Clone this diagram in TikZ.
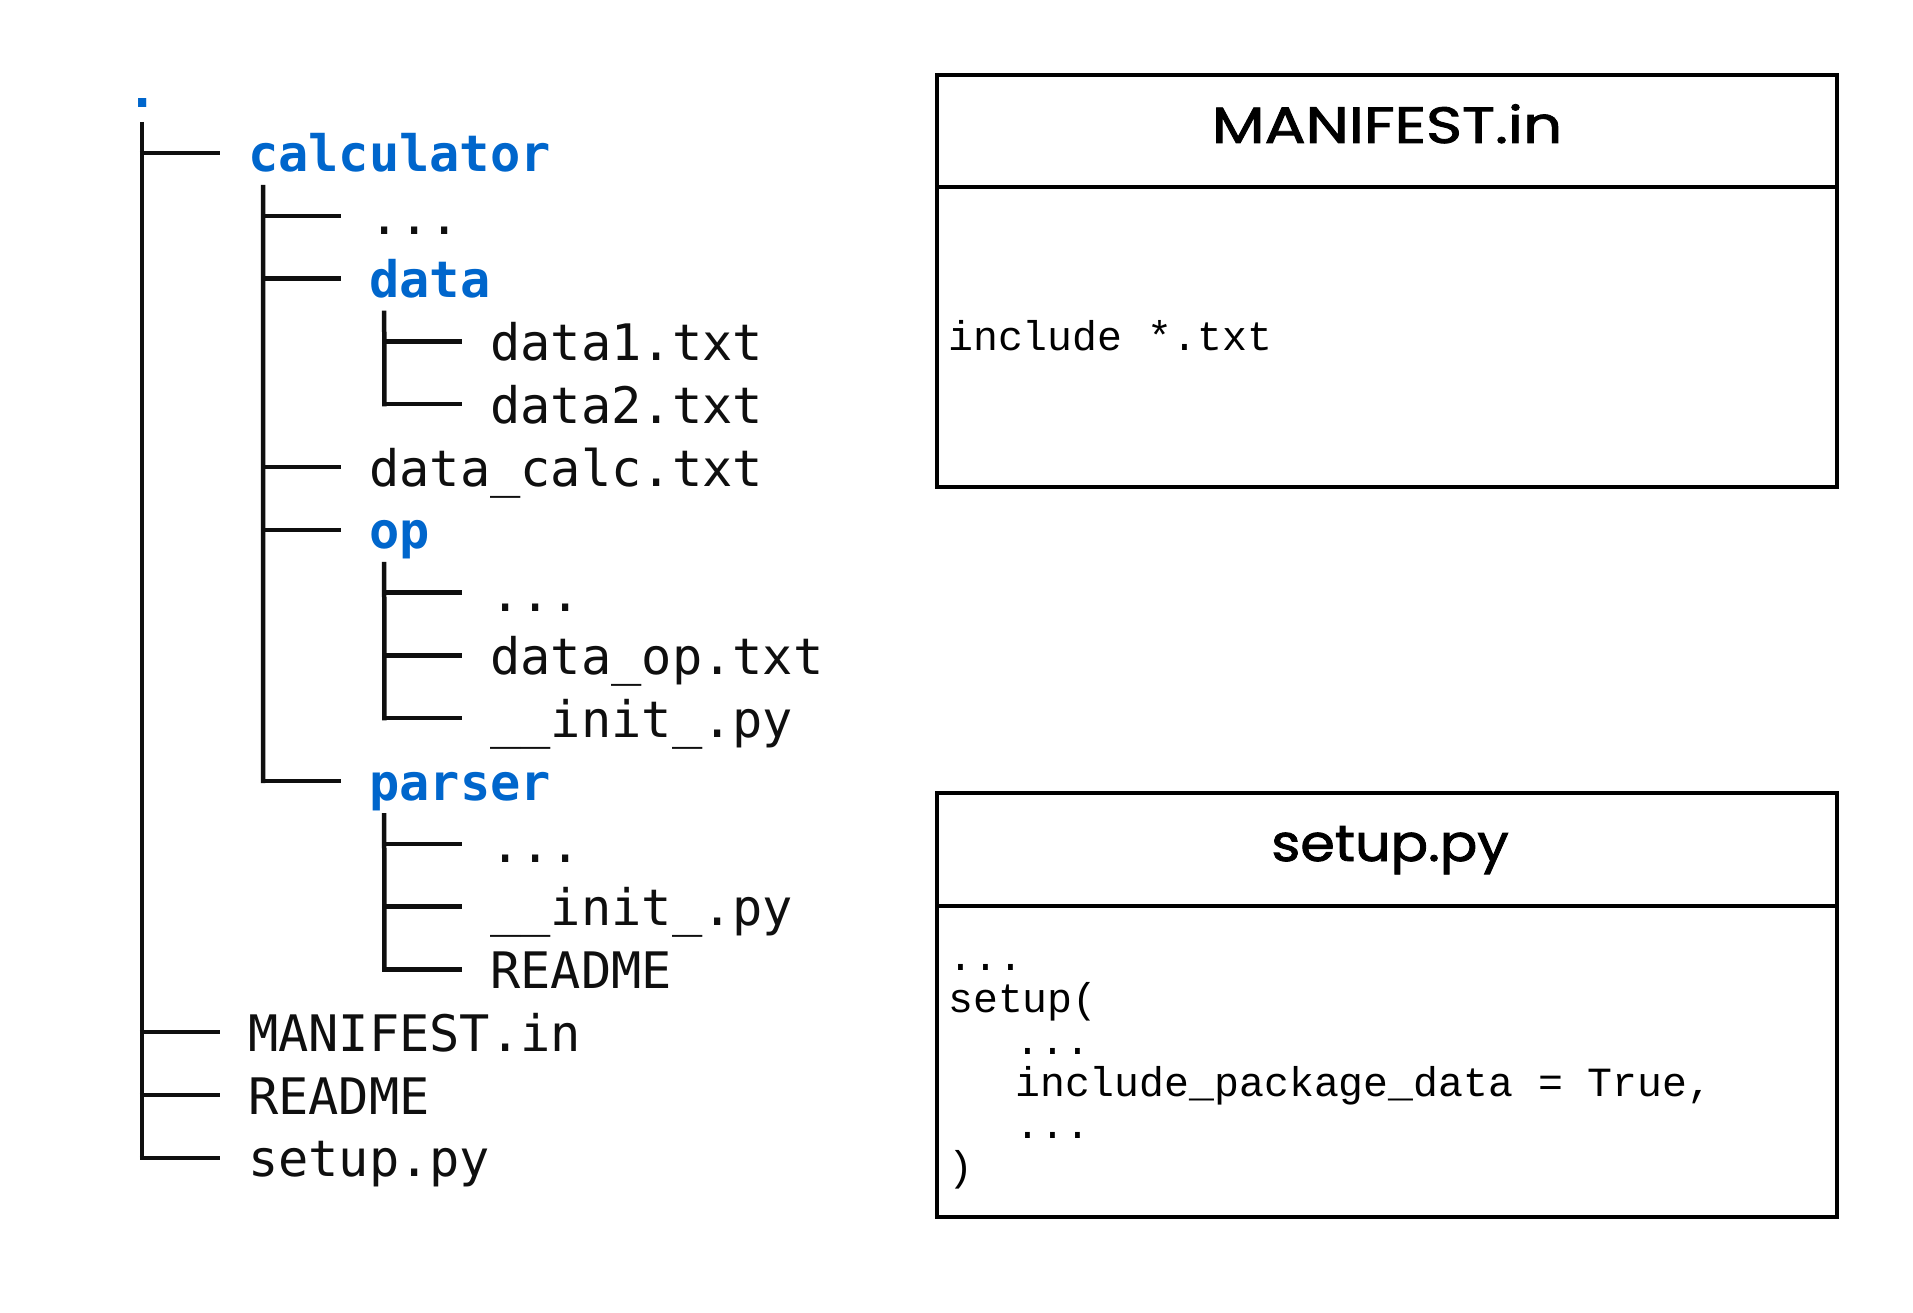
\documentclass[tikz,border=0pt]{standalone}
\usepackage{fontspec}
\usetikzlibrary{calc}
\newfontfamily\treefont{DejaVu Sans Mono}
\newfontfamily\codefont{Liberation Mono}
\newfontfamily\headfont{Poppins}[FakeBold=1.6]
\definecolor{dirblue}{RGB}{0,102,204}
\definecolor{treeblack}{RGB}{15,15,15}
\tikzset{
  treetxt/.style={inner sep=0pt, outer sep=0pt, anchor=base west, text=treeblack,
    font=\treefont\fontsize{50.3}{60}\selectfont},
  treedir/.style={treetxt, text=dirblue, font=\treefont\bfseries\fontsize{50.3}{60}\selectfont},
  branch/.style={line width=4.5pt, draw=treeblack},
  boxpart/.style={draw=black, line width=4pt, inner sep=0pt, outer sep=0pt, anchor=north west, minimum width=900pt},
  headtxt/.style={inner sep=0pt, anchor=base, font=\headfont\fontsize{51}{60}\selectfont},
  codetxt/.style={inner sep=0pt, anchor=base west, font=\codefont\fontsize{41.5}{42}\selectfont}
}
\begin{document}
\begin{tikzpicture}[x=1pt,y=-1pt]
\useasboundingbox (0,0) rectangle (1913,1313);
% ---------- tree ----------
\def\rowy#1{153+62.8*#1+19}
\node[treedir] (root) at (127,108) {.};
\node[treedir] (r0)  at (248.0,{\rowy{0}})  {calculator};
\node[treetxt] (r1)  at (369.2,{\rowy{1}})  {...};
\node[treedir] (r2)  at (369.2,{\rowy{2}})  {data};
\node[treetxt] (r3)  at (490.4,{\rowy{3}})  {data1.txt};
\node[treetxt] (r4)  at (490.4,{\rowy{4}})  {data2.txt};
\node[treetxt] (r5)  at (369.2,{\rowy{5}})  {data\_calc.txt};
\node[treedir] (r6)  at (369.2,{\rowy{6}})  {op};
\node[treetxt] (r7)  at (490.4,{\rowy{7}})  {...};
\node[treetxt] (r8)  at (490.4,{\rowy{8}})  {data\_op.txt};
\node[treetxt] (r9)  at (490.4,{\rowy{9}})  {\_\_init\_.py};
\node[treedir] (r10) at (369.2,{\rowy{10}}) {parser};
\node[treetxt] (r11) at (490.4,{\rowy{11}}) {...};
\node[treetxt] (r12) at (490.4,{\rowy{12}}) {\_\_init\_.py};
\node[treetxt] (r13) at (490.4,{\rowy{13}}) {README};
\node[treetxt] (r14) at (248.0,{\rowy{14}}) {MANIFEST.in};
\node[treetxt] (r15) at (248.0,{\rowy{15}}) {README};
\node[treetxt] (r16) at (248.0,{\rowy{16}}) {setup.py};
% horizontal branches
\foreach \n in {r0,r1,r2,r3,r4,r5,r6,r7,r8,r9,r10,r11,r12,r13,r14,r15,r16}{
  \draw[branch] ($(\n.base west)+(-108.2,-19)$) -- ($(\n.base west)+(-28,-19)$);
}
% vertical branches
\draw[branch] ($(root.base west)+(15,14)$) -- ($(r16.base west)+(-106,-16.8)$);
\draw[branch] ($(r0.base west)+(15,13)$) -- ($(r10.base west)+(-106,-16.8)$);
\draw[branch] ($(r2.base west)+(15,13)$) -- ($(r4.base west)+(-106,-16.8)$);
\draw[branch] ($(r6.base west)+(15,13)$) -- ($(r9.base west)+(-106,-16.8)$);
\draw[branch] ($(r10.base west)+(15,13)$) -- ($(r13.base west)+(-106,-16.8)$);
% ---------- MANIFEST.in box ----------
\node[boxpart, minimum height=112pt] (mhead) at (937,75) {};
\node[boxpart, minimum height=300pt] (mbody) at (mhead.south west) {};
\node[headtxt] (mtitle) at (1387,143) {\scalebox{1.2}[1]{MANIFEST.in}};
\node[codetxt] (mline) at (948,350) {include *.txt};
% ---------- setup.py box ----------
\node[boxpart, minimum height=113pt] (shead) at (937,793) {};
\node[boxpart, minimum height=311pt] (sbody) at (shead.south west) {};
\node[headtxt] (stitle) at (1390,861) {\scalebox{1.09}[1]{setup.py}};
\node[codetxt] (s1) at (948,970)  {...};
\node[codetxt] (s2) at (948,1012) {setup(};
\node[codetxt] (s3) at (1015,1054) {...};
\node[codetxt] (s4) at (1015,1096) {include\_package\_data = True,};
\node[codetxt] (s5) at (1015,1138) {...};
\node[codetxt] (s6) at (948,1180) {)};
\end{tikzpicture}
\end{document}
